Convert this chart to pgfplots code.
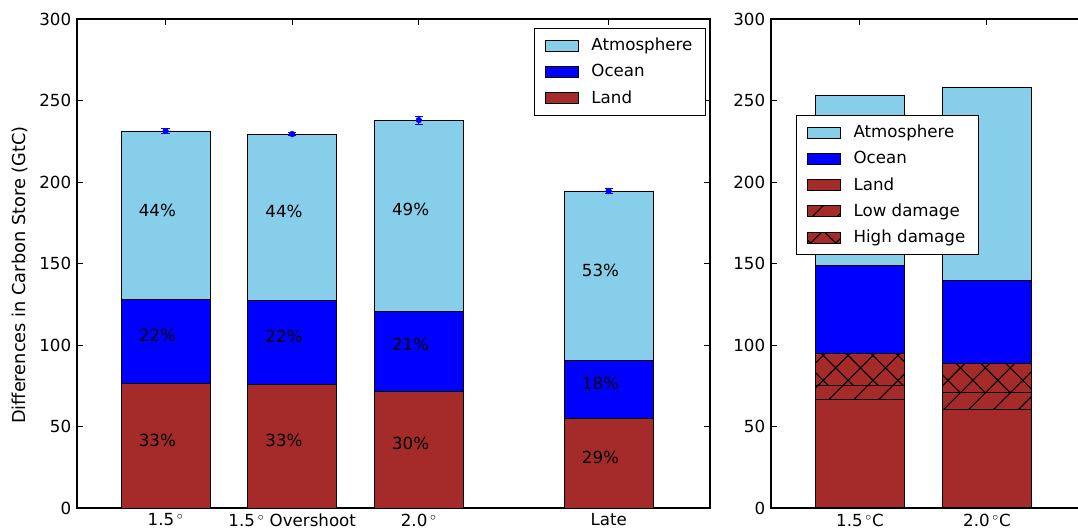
\documentclass[border=0pt]{standalone}
\usepackage{fontspec}
\setmainfont{DejaVu Sans}
\usepackage{pgfplots}
\pgfplotsset{compat=1.18}
\usetikzlibrary{patterns.meta}

\definecolor{skyc}{HTML}{87CEEB}
\definecolor{bluec}{HTML}{0000FF}
\definecolor{landc}{HTML}{A52A2A}

\pgfplotsset{
  boxleg/.style={legend image code/.code={\draw[##1,draw=black,line width=0.6pt] (0pt,-4pt) rectangle (24pt,4pt);}},
  carbon/.style={
    scale only axis,
    ymin=0, ymax=300,
    ytick={0,50,...,300},
    axis line style={black, line width=0.8pt},
    every tick/.style={black, line width=0.7pt},
    major tick length=4.5pt,
    /pgf/number format/assume math mode=true,
    tick label style={font=\fontsize{12}{14}\selectfont},
    legend cell align=left,
    legend style={draw=black, line width=0.7pt, font=\fontsize{12}{14}\selectfont,
      row sep=4pt, inner xsep=7.5pt, inner ysep=5pt,
      /tikz/every odd column/.append style={column sep=7pt}},
  },
  bars/.style={ybar stacked, bar width=0.7, draw=black, line width=0.6pt},
  lowdmg/.style={fill=landc, postaction={pattern={Lines[angle=45,distance=12.7pt,line width=0.8pt]}, pattern color=black}},
  highdmg/.style={fill=landc,
    postaction={pattern={Lines[angle=45,distance=12.7pt,line width=0.8pt]}, pattern color=black},
    postaction={pattern={Lines[angle=-45,distance=12.7pt,line width=0.8pt]}, pattern color=black}},
}

\begin{document}
\fontsize{12}{14}\selectfont
\begin{tikzpicture}
\useasboundingbox (0,0) rectangle (776.16pt,381.6pt);
\clip (0,0) rectangle (776.16pt,381.6pt);

% left panel: scenarios
\begin{axis}[carbon,
    at={(55.44pt,15.84pt)}, anchor=south west,
    width=455.76pt, height=352.08pt,
    xmin=-0.7, xmax=4.3,
    xtick={0,1,2,3.5},
    xticklabels={1.5\,$^\circ$, 1.5\,$^\circ$ Overshoot, 2.0\,$^\circ$, Late},
    ylabel={Differences in Carbon Store (GtC)},
    every axis y label/.style={at={(axis description cs:-0.09,0.4765)}, rotate=90, anchor=center,
      font=\fontsize{12.8}{15}\selectfont},
    legend style={at={(axis description cs:0.9937,0.9816)}, anchor=north east},
  ]
  \addplot[bars, fill=landc, forget plot] coordinates {(0,76.7) (1,76.1) (2,71.8) (3.5,55.2)};
  \addplot[bars, fill=bluec, forget plot] coordinates {(0,51.5) (1,51.5) (2,49.1) (3.5,35.6)};
  \addplot[bars, fill=skyc, forget plot] coordinates {(0,103.1) (1,101.8) (2,117.1) (3.5,103.7)};

  \addlegendimage{boxleg, fill=skyc}
  \addlegendentry{Atmosphere}
  \addlegendimage{boxleg, fill=bluec}
  \addlegendentry{Ocean}
  \addlegendimage{boxleg, fill=landc}
  \addlegendentry{Land}

  % shares of each store
  \node at (axis cs:-0.065,182.8) {44\%};
  \node at (axis cs:-0.065,106.0) {22\%};
  \node at (axis cs:-0.065,41.7) {33\%};
  \node at (axis cs:0.935,182.2) {44\%};
  \node at (axis cs:0.935,105.5) {22\%};
  \node at (axis cs:0.935,41.7) {33\%};
  \node at (axis cs:1.935,183.4) {49\%};
  \node at (axis cs:1.935,100.6) {21\%};
  \node at (axis cs:1.935,39.9) {30\%};
  \node at (axis cs:3.435,146.0) {53\%};
  \node at (axis cs:3.435,76.7) {18\%};
  \node at (axis cs:3.435,31.3) {29\%};
\end{axis}

% error bars on the totals
\begin{axis}[
    scale only axis, hide axis,
    at={(55.44pt,15.84pt)}, anchor=south west,
    width=455.76pt, height=352.08pt,
    xmin=-0.7, xmax=4.3, ymin=0, ymax=300,
  ]
  \addplot[blue, only marks, mark=none,
    error bars/.cd, y dir=both, y explicit,
    error bar style={blue, line width=0.6pt},
    error mark options={blue, rotate=90, mark size=3pt, line width=0.6pt}]
    coordinates {(0,231.3) +- (0,1.5) (1,229.4) +- (0,1.1) (2,238.0) +- (0,2.5) (3.5,194.5) +- (0,1.5)};
\end{axis}

% right panel: damage, cut off at the right edge of the picture
\begin{axis}[carbon,
    at={(555.12pt,15.84pt)}, anchor=south west,
    width=221.04pt, height=352.08pt,
    xmin=-0.7, xmax=1.717,
    clip=false,
    axis line style={draw=none},
    ytick pos=left, xtick pos=both,
    xtick={0,1},
    xticklabels={1.5\,$^\circ$C, 2.0\,$^\circ$C},
    legend style={at={(axis description cs:0.0814,0.8037)}, anchor=north west},
  ]
  \addplot[bars, fill=landc, forget plot] coordinates {(0,66.7) (1,60.6)};
  \addplot[bars, lowdmg, forget plot] coordinates {(0,8.3) (1,10.4)};
  \addplot[bars, highdmg, forget plot] coordinates {(0,20.1) (1,17.8)};
  \addplot[bars, fill=bluec, forget plot] coordinates {(0,54.0) (1,51.1)};
  \addplot[bars, fill=skyc, forget plot] coordinates {(0,104.3) (1,118.4)};

  % frame without its right side
  \draw[black, line width=0.8pt] (rel axis cs:1,1) -- (rel axis cs:0,1) -- (rel axis cs:0,0) -- (rel axis cs:1,0);

  \addlegendimage{boxleg, fill=skyc}
  \addlegendentry{Atmosphere}
  \addlegendimage{boxleg, fill=bluec}
  \addlegendentry{Ocean}
  \addlegendimage{boxleg, fill=landc}
  \addlegendentry{Land}
  \addlegendimage{boxleg, lowdmg}
  \addlegendentry{Low damage}
  \addlegendimage{boxleg, highdmg}
  \addlegendentry{High damage}
\end{axis}
\end{tikzpicture}
\end{document}
